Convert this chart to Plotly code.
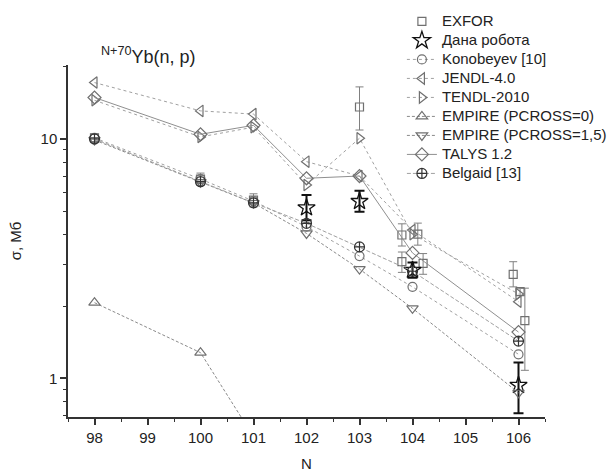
import plotly.graph_objects as go

# ---------------- data ----------------
N_models = [98, 100, 101, 102, 103, 104, 106]

exfor_x = [98, 100, 101, 103, 103.8, 104.1, 103.8, 104.2, 105.9, 106.03, 106.12]
exfor_y = [10.1, 6.8, 5.55, 13.6, 3.97, 4.0, 3.07, 3.02, 2.72, 2.30, 1.74]
exfor_ep = [0.4, 0.4, 0.35, 2.9, 0.45, 0.45, 0.3, 0.3, 0.35, 0.08, 0.64]
exfor_em = [0.4, 0.4, 0.35, 2.7, 0.4, 0.4, 0.3, 0.3, 0.31, 0.08, 0.66]

this_x = [102, 103, 104, 106]
this_y = [5.16, 5.49, 2.83, 0.935]
this_ep = [0.67, 0.59, 0.22, 0.23]
this_em = [0.58, 0.53, 0.2, 0.22]

konobeyev = [10.1, 6.8, 5.5, 4.3, 3.24, 2.41, 1.26]
jendl = [17.2, 13.1, 12.7, 8.04, 7.0, 4.16, 2.09]
tendl = [14.5, 10.2, 11.2, 6.42, 10.07, 4.0, 2.25]
empire0_x = [98, 100, 101]
empire0 = [2.07, 1.28, 0.57]
empire15 = [9.9, 6.6, 5.4, 4.03, 2.86, 1.96, 0.87]
talys = [14.9, 10.46, 11.4, 6.85, 7.0, 3.34, 1.56]
belgaid = [10.0, 6.63, 5.41, 4.44, 3.54, 2.8, 1.43]

x_ticks = [98, 99, 100, 101, 102, 103, 104, 105, 106]

# ---------------- styles ----------------
LINE = "#a0a0a0"
MK = "#707070"
FONT = "Arial, Liberation Sans, sans-serif"


def lname(s):
    return '<span style="font-size:15px">' + s + '</span>'


fig = go.Figure()

fig.add_trace(go.Scatter(
    x=exfor_x, y=exfor_y, mode="markers", name=lname("EXFOR"),
    marker=dict(symbol="square-open", size=8, color=MK, line=dict(width=1.2)),
    error_y=dict(type="data", array=exfor_ep, arrayminus=exfor_em,
                 color="#808080", thickness=1, width=4),
))
fig.add_trace(go.Scatter(
    x=this_x, y=this_y, mode="markers", name=lname("Дана робота"),
    marker=dict(symbol="star-open", size=13, color="#111", line=dict(width=1.3)),
    error_y=dict(type="data", array=this_ep, arrayminus=this_em,
                 color="#111", thickness=2, width=5),
))

models = [
    ("Konobeyev [10]", N_models, konobeyev, "circle-open", "dot", LINE, 9),
    ("JENDL-4.0", N_models, jendl, "triangle-left-open", "dot", LINE, 10),
    ("TENDL-2010", N_models, tendl, "triangle-right-open", "dot", LINE, 10),
    ("EMPIRE (PCROSS=0)", empire0_x, empire0, "triangle-up-open", "3px,2px", "#8a8a8a", 10),
    ("EMPIRE (PCROSS=1,5)", N_models, empire15, "triangle-down-open", "3px,2px", "#8a8a8a", 10),
    ("TALYS 1.2", N_models, talys, "diamond-open", "solid", "#8f8f8f", 10),
    ("Belgaid [13]", N_models, belgaid, "circle-cross-open", "4px,2px", "#a0a0a0", 10),
]
for name, xs, ys, sym, dash, lc, sz in models:
    mcol = "#333" if name.startswith("Belgaid") else MK
    fig.add_trace(go.Scatter(
        x=xs, y=ys, mode="lines+markers", name=lname(name),
        line=dict(color=lc, width=1, dash=dash),
        marker=dict(symbol=sym, size=sz, color=mcol, line=dict(width=1.2)),
    ))

fig.add_annotation(
    x=0.065, y=1.027, xref="paper", yref="paper", xanchor="left", yanchor="middle",
    text="<sup>N+70</sup>Yb(n, p)", showarrow=False,
    font=dict(family=FONT, size=18, color="#222"),
)

fig.update_layout(
    width=614, height=472,
    margin=dict(l=68, r=69, t=65, b=55, autoexpand=False),
    paper_bgcolor="white", plot_bgcolor="white",
    font=dict(family=FONT, size=14, color="#222"),
    showlegend=True,
    legend=dict(
        x=0.70, y=1.165, xanchor="left", yanchor="top",
        bgcolor="rgba(0,0,0,0)", borderwidth=0,
        font=dict(family=FONT, size=12.3, color="#222"),
        tracegroupgap=0, itemwidth=30,
    ),
    xaxis=dict(
        range=[97.5, 106.5], tickvals=x_ticks, ticktext=[str(v) for v in x_ticks],
        showgrid=False, zeroline=False, showline=True, linecolor="#333", linewidth=1.5,
        ticks="outside", ticklen=6, tickwidth=1.5, tickcolor="#333",
        tickfont=dict(size=15),
        minor=dict(dtick=0.5, tick0=97.5, ticks="outside", ticklen=3, tickwidth=1.2, tickcolor="#333"),
        title=dict(text="N", font=dict(size=15), standoff=16),
    ),
    yaxis=dict(
        type="log", range=[-0.1617, 1.309],
        tickvals=[1, 10], ticktext=["1", "10"],
        showgrid=False, zeroline=False, showline=True, linecolor="#333", linewidth=1.5,
        ticks="outside", ticklen=6, tickwidth=1.5, tickcolor="#333",
        tickfont=dict(size=15),
        minor=dict(tickvals=[0.7, 0.8, 0.9, 2, 3, 4, 5, 6, 7, 8, 9, 20],
                   ticks="outside", ticklen=3, tickwidth=1.2, tickcolor="#333"),
        title=dict(text="σ, Мб", font=dict(size=15), standoff=15),
    ),
)

fig.write_html("out.html")
